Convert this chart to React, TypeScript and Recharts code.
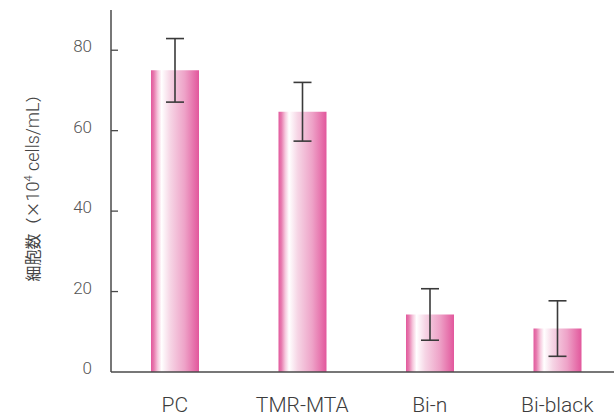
import React from "react";
import { BarChart, Bar, XAxis, YAxis, ErrorBar } from "recharts";

const categories = ["PC", "TMR-MTA", "Bi-n", "Bi-black"];
const cellCounts = [75.0, 64.7, 14.3, 10.8];
const errors = [7.9, 7.3, 6.4, 6.9];
const yTicks = [0, 20, 40, 60, 80];

const data = categories.map((name, i) => ({ name, value: cellCounts[i], err: errors[i] }));

const AXIS_X = 111;
const AXIS_COLOR = "#4a4a4a";
const FONT = "Roboto, 'Liberation Sans', Arial, sans-serif";

const YTick = (props: any) => {
  const { y, payload } = props;
  return (
    <g>
      {payload.value !== 0 && (
        <line x1={AXIS_X} x2={AXIS_X + 7} y1={y} y2={y} stroke={AXIS_COLOR} strokeWidth={1.3} />
      )}
      <text
        x={92}
        y={y - 4}
        textAnchor="end"
        dominantBaseline="central"
        fill="#555"
        fontSize={17}
        fontWeight={300}
        fontFamily={FONT}
      >
        {payload.value}
      </text>
    </g>
  );
};

const XTick = (props: any) => {
  const { x, payload } = props;
  return (
    <text
      x={x}
      y={412}
      textAnchor="middle"
      fill="#3c3c3c"
      fontSize={21}
      fontWeight={300}
      fontFamily={FONT}
    >
      {payload.value}
    </text>
  );
};

const YLabel = () => (
  <text
    transform="translate(39,184) rotate(-90)"
    textAnchor="middle"
    fill="#444"
    fontFamily={FONT}
    fontWeight={300}
    fontSize={18}
  >
    <tspan fontFamily="'Noto Sans CJK JP'" fontWeight={400} fontSize={16}>細胞数（×</tspan>
    <tspan>10</tspan>
    <tspan fontSize={11} dy={-7}>4</tspan>
    <tspan dy={7}> cells/mL</tspan>
    <tspan fontFamily="'Noto Sans CJK JP'" fontWeight={400} fontSize={16}>）</tspan>
  </text>
);

export default function App() {
  return (
    <div style={{ position: "absolute", left: 0, top: 0 }}>
      <BarChart
        width={614}
        height={419}
        data={data}
        margin={{ top: 10, right: 0, left: 0, bottom: 0 }}
      >
        <defs>
          <linearGradient id="pinkGrad" x1="0" y1="0" x2="1" y2="0">
            <stop offset="0%" stopColor="#e2599d" />
            <stop offset="6%" stopColor="#e77aae" />
            <stop offset="14%" stopColor="#f6c8dd" />
            <stop offset="22%" stopColor="#ffffff" />
            <stop offset="40%" stopColor="#f6d5e5" />
            <stop offset="70%" stopColor="#eea3c8" />
            <stop offset="100%" stopColor="#e2579c" />
          </linearGradient>
        </defs>
        <XAxis
          dataKey="name"
          height={47}
          padding={{ left: 0, right: -7 }}
          axisLine={{ stroke: AXIS_COLOR, strokeWidth: 1.5 }}
          tickLine={false}
          tick={<XTick />}
          interval={0}
        />
        <YAxis
          width={111}
          domain={[0, 90]}
          ticks={yTicks}
          axisLine={{ stroke: AXIS_COLOR, strokeWidth: 1.5 }}
          tickLine={false}
          tick={<YTick />}
          label={{ content: <YLabel /> }}
        />
        <Bar dataKey="value" fill="url(#pinkGrad)" barSize={48} isAnimationActive={false}>
          <ErrorBar dataKey="err" width={9} stroke="#3a3a3a" strokeWidth={1.6} direction="y" />
        </Bar>
      </BarChart>
    </div>
  );
}
